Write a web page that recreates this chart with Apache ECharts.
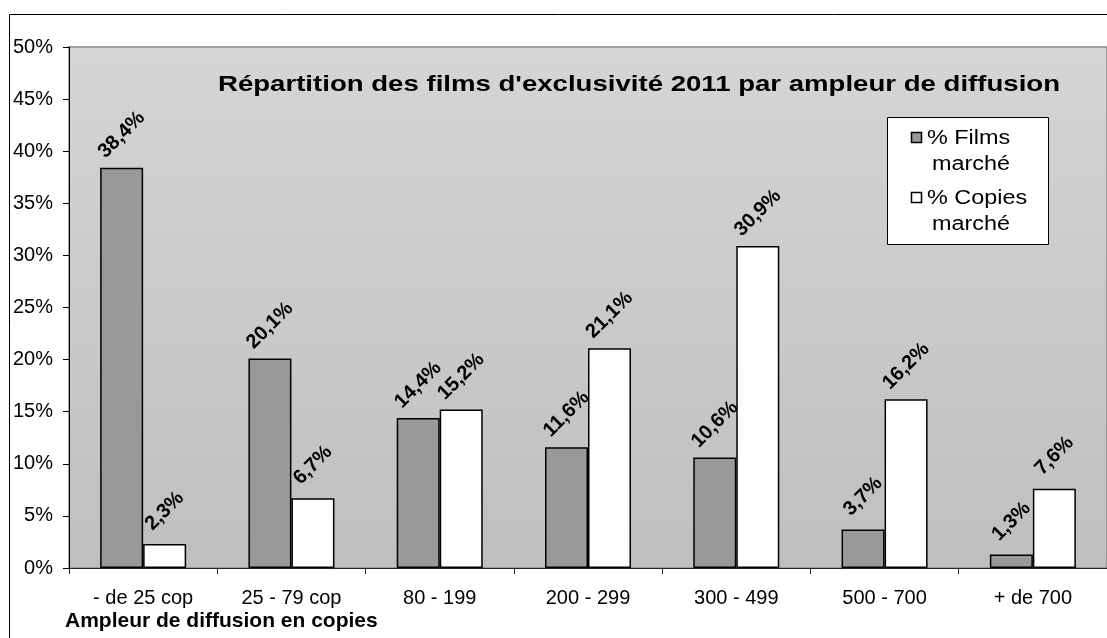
<!DOCTYPE html>
<html>
<head>
<meta charset="utf-8">
<script src="https://cdn.jsdelivr.net/npm/echarts@6/dist/echarts.min.js"></script>
<style>
  html, body { margin: 0; padding: 0; background: #fff; }
  #chart { width: 1107px; height: 638px; }
</style>
</head>
<body>
<div id="chart"></div>
<script>
const categories = ['- de 25 cop', '25 - 79 cop', '80 - 199', '200 - 299', '300 - 499', '500 - 700', '+ de 700'];
const filmsShare = [38.4, 20.1, 14.4, 11.6, 10.6, 3.7, 1.3];
const copiesShare = [2.3, 6.7, 15.2, 21.1, 30.9, 16.2, 7.6];
const seriesNames = ['% Films marché', '% Copies marché'];
const legendLines = [['% Films', 'marché'], ['% Copies', 'marché']];
const titleText = "Répartition des films d'exclusivité 2011 par ampleur de diffusion";
const xAxisTitle = 'Ampleur de diffusion en copies';
const yMin = 0, yMax = 50, yStep = 5;

const FONT = '"Liberation Sans", Arial, sans-serif';

function measure(text, font) {
  const c = document.createElement('canvas').getContext('2d');
  c.font = font;
  return c.measureText(text).width;
}
const titleFont = 'bold 22px ' + FONT;
const titleScale = 842 / measure(titleText, titleFont);

const chart = echarts.init(document.getElementById('chart'), null, { renderer: 'canvas' });

const labelCfg = {
  show: true,
  position: 'top',
  distance: 33,
  rotate: 45,
  align: 'center',
  verticalAlign: 'middle',
  fontFamily: FONT,
  fontSize: 20,
  fontWeight: 'bold',
  color: '#000',
  formatter: p => String(p.value).replace('.', ',') + '%'
};

const legendFont = '20px ' + FONT;
const legendScale = 1.17;

chart.setOption({
  animation: false,
  backgroundColor: '#fff',
  grid: {
    left: 69, top: 47, width: 1042, height: 521,
    show: true,
    borderColor: '#8c8c8c',
    borderWidth: 1.5,
    backgroundColor: {
      type: 'linear', x: 0, y: 0, x2: 0, y2: 1,
      colorStops: [{ offset: 0, color: '#d5d5d5' }, { offset: 1, color: '#bfbfbf' }]
    }
  },
  xAxis: {
    type: 'category',
    data: categories,
    axisLine: { show: true, lineStyle: { color: '#222', width: 1 } },
    axisTick: { show: true, length: 6, lineStyle: { color: '#222' } },
    axisLabel: { interval: 0, fontFamily: FONT, fontSize: 20, color: '#000', margin: 20 },
    splitLine: { show: false }
  },
  yAxis: {
    type: 'value',
    min: yMin, max: yMax, interval: yStep,
    axisLine: { show: true, lineStyle: { color: '#000', width: 1 } },
    axisTick: { show: true, length: 6, lineStyle: { color: '#000' } },
    axisLabel: { formatter: '{value}%', fontFamily: FONT, fontSize: 20, color: '#000', margin: 16 },
    splitLine: { show: false }
  },
  series: [
    {
      name: seriesNames[0], type: 'bar', data: filmsShare,
      barWidth: 43, barGap: '0%',
      itemStyle: { color: '#999999', borderColor: '#000', borderWidth: 1.5 },
      label: labelCfg
    },
    {
      name: seriesNames[1], type: 'bar', data: copiesShare,
      barWidth: 43, barGap: '0%',
      itemStyle: { color: '#ffffff', borderColor: '#000', borderWidth: 1.5 },
      label: labelCfg
    }
  ],
  graphic: [
    {
      type: 'rect', z: 1, silent: true,
      shape: { x: 9.5, y: 14.5, width: 1200, height: 700 },
      style: { fill: null, stroke: '#000', lineWidth: 1 }
    },
    {
      type: 'text', z: 10, x: 218, y: 85, scaleX: titleScale,
      style: { text: titleText, font: titleFont, fill: '#000', align: 'left', verticalAlign: 'middle' }
    },
    {
      type: 'text', z: 10, x: 65, y: 621,
      style: { text: xAxisTitle, font: 'bold 21px ' + FONT, fill: '#000', align: 'left', verticalAlign: 'middle' }
    },
    {
      type: 'rect', z: 10,
      shape: { x: 887.5, y: 117.5, width: 161, height: 127 },
      style: { fill: '#fff', stroke: '#000', lineWidth: 1 }
    },
    {
      type: 'rect', z: 11,
      shape: { x: 911.5, y: 132.5, width: 10, height: 10 },
      style: { fill: '#999999', stroke: '#000', lineWidth: 1.5 }
    },
    {
      type: 'rect', z: 11,
      shape: { x: 911.5, y: 192.5, width: 10, height: 10 },
      style: { fill: '#ffffff', stroke: '#000', lineWidth: 1.5 }
    },
    {
      type: 'text', z: 11, x: 927, y: 138, scaleX: legendScale,
      style: { text: legendLines[0][0], font: legendFont, fill: '#000', align: 'left', verticalAlign: 'middle' }
    },
    {
      type: 'text', z: 11, x: 932, y: 164, scaleX: legendScale,
      style: { text: legendLines[0][1], font: legendFont, fill: '#000', align: 'left', verticalAlign: 'middle' }
    },
    {
      type: 'text', z: 11, x: 927, y: 198, scaleX: legendScale,
      style: { text: legendLines[1][0], font: legendFont, fill: '#000', align: 'left', verticalAlign: 'middle' }
    },
    {
      type: 'text', z: 11, x: 932, y: 224, scaleX: legendScale,
      style: { text: legendLines[1][1], font: legendFont, fill: '#000', align: 'left', verticalAlign: 'middle' }
    }
  ]
});
</script>
</body>
</html>
